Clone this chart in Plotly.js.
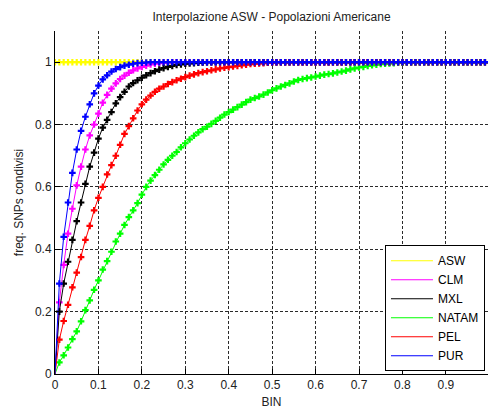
<!DOCTYPE html>
<html>
<head>
<meta charset="utf-8">
<script src="https://cdn.plot.ly/plotly-3.0.1.min.js"></script>
<style>html,body{margin:0;padding:0;background:#fff;}#chart{width:488px;height:410px;}</style>
</head>
<body>
<div id="chart"></div>
<script>
const bins = [0,0.01,0.02,0.03,0.04,0.05,0.06,0.07,0.08,0.09,
0.1,0.11,0.12,0.13,0.14,0.15,0.16,0.17,0.18,0.19,
0.2,0.21,0.22,0.23,0.24,0.25,0.26,0.27,0.28,0.29,
0.3,0.31,0.32,0.33,0.34,0.35,0.36,0.37,0.38,0.39,
0.4,0.41,0.42,0.43,0.44,0.45,0.46,0.47,0.48,0.49,
0.5,0.51,0.52,0.53,0.54,0.55,0.56,0.57,0.58,0.59,
0.6,0.61,0.62,0.63,0.64,0.65,0.66,0.67,0.68,0.69,
0.7,0.71,0.72,0.73,0.74,0.75,0.76,0.77,0.78,0.79,
0.8,0.81,0.82,0.83,0.84,0.85,0.86,0.87,0.88,0.89,
0.9,0.91,0.92,0.93,0.94,0.95,0.96,0.97,0.98,0.99,
1];

const ASW = [1,1,1,1,1,1,1,1,1,1,
1,1,1,1,1,1,1,1,1,1,
1,1,1,1,1,1,1,1,1,1,
1,1,1,1,1,1,1,1,1,1,
1,1,1,1,1,1,1,1,1,1,
1,1,1,1,1,1,1,1,1,1,
1,1,1,1,1,1,1,1,1,1,
1,1,1,1,1,1,1,1,1,1,
1,1,1,1,1,1,1,1,1,1,
1,1,1,1,1,1,1,1,1,1,
1];

const CLM = [0,0.23,0.35,0.45,0.53,0.605,0.665,0.72,0.765,0.8,
0.835,0.87,0.895,0.915,0.932,0.946,0.957,0.966,0.974,0.98,
0.985,0.989,0.993,0.995,0.997,0.998,0.999,1,1,1,
1,1,1,1,1,1,1,1,1,1,
1,1,1,1,1,1,1,1,1,1,
1,1,1,1,1,1,1,1,1,1,
1,1,1,1,1,1,1,1,1,1,
1,1,1,1,1,1,1,1,1,1,
1,1,1,1,1,1,1,1,1,1,
1,1,1,1,1,1,1,1,1,1,
1];

const MXL = [0,0.2,0.29,0.36,0.43,0.49,0.55,0.61,0.665,0.71,
0.755,0.79,0.815,0.84,0.868,0.888,0.905,0.922,0.933,0.942,
0.95,0.958,0.965,0.971,0.976,0.981,0.985,0.988,0.991,0.993,
0.995,0.996,0.997,0.998,0.999,1,1,1,1,1,
1,1,1,1,1,1,1,1,1,1,
1,1,1,1,1,1,1,1,1,1,
1,1,1,1,1,1,1,1,1,1,
1,1,1,1,1,1,1,1,1,1,
1,1,1,1,1,1,1,1,1,1,
1,1,1,1,1,1,1,1,1,1,
1];

const NATAM = [0,0.037,0.06,0.085,0.112,0.137,0.169,0.205,0.236,0.27,
0.3,0.335,0.362,0.392,0.425,0.45,0.478,0.503,0.525,0.548,
0.575,0.6,0.62,0.638,0.655,0.672,0.687,0.7,0.712,0.727,
0.74,0.752,0.764,0.775,0.785,0.793,0.802,0.812,0.822,0.832,
0.84,0.848,0.856,0.864,0.872,0.88,0.885,0.89,0.896,0.903,
0.91,0.916,0.922,0.927,0.932,0.938,0.943,0.946,0.949,0.951,
0.954,0.957,0.96,0.962,0.964,0.967,0.97,0.973,0.977,0.98,
0.983,0.985,0.988,0.99,0.992,0.994,0.995,0.996,0.997,0.998,
0.998,0.999,1,1,1,1,1,1,1,1,
1,1,1,1,1,1,1,1,1,1,
1];

const PEL = [0,0.11,0.17,0.222,0.278,0.325,0.375,0.43,0.475,0.525,
0.565,0.6,0.64,0.67,0.7,0.735,0.77,0.795,0.82,0.845,
0.865,0.88,0.893,0.905,0.915,0.922,0.93,0.936,0.942,0.947,
0.952,0.957,0.961,0.965,0.968,0.971,0.974,0.977,0.98,0.982,
0.984,0.986,0.988,0.99,0.992,0.994,0.995,0.996,0.997,0.998,
0.999,1,1,1,1,1,1,1,1,1,
1,1,1,1,1,1,1,1,1,1,
1,1,1,1,1,1,1,1,1,1,
1,1,1,1,1,1,1,1,1,1,
1,1,1,1,1,1,1,1,1,1,
1];

const PUR = [0,0.29,0.44,0.55,0.645,0.72,0.78,0.825,0.865,0.9,
0.925,0.945,0.958,0.97,0.978,0.984,0.989,0.992,0.995,0.997,
0.998,0.999,1,1,1,1,1,1,1,1,
1,1,1,1,1,1,1,1,1,1,
1,1,1,1,1,1,1,1,1,1,
1,1,1,1,1,1,1,1,1,1,
1,1,1,1,1,1,1,1,1,1,
1,1,1,1,1,1,1,1,1,1,
1,1,1,1,1,1,1,1,1,1,
1,1,1,1,1,1,1,1,1,1,
1];

const seriesNames = ['ASW','CLM','MXL','NATAM','PEL','PUR'];
const seriesValues = [ASW, CLM, MXL, NATAM, PEL, PUR];
const seriesColors = ['#ffff00','#ff00ff','#000000','#00ff00','#ff0000','#0000ff'];

const xTicks = [0,0.1,0.2,0.3,0.4,0.5,0.6,0.7,0.8,0.9];
const xTickText = ['0','0.1','0.2','0.3','0.4','0.5','0.6','0.7','0.8','0.9'];
const yTicks = [0,0.2,0.4,0.6,0.8,1];
const yTickText = ['0','0.2','0.4','0.6','0.8','1'];

const traces = [];
seriesNames.forEach((name, k) => {
  const vals = seriesValues[k];
  const startIdx = (name === 'ASW') ? 0 : 1;
  traces.push({
    type: 'scatter', mode: 'lines', name: name,
    x: bins, y: vals,
    line: {color: seriesColors[k], width: 1},
    legendgroup: name, showlegend: true, hoverinfo: 'skip'
  });
  traces.push({
    type: 'scatter', mode: 'markers', name: name,
    x: bins.slice(startIdx), y: vals.slice(startIdx),
    marker: {symbol: 'cross', size: 5.5, color: seriesColors[k], line: {width: 0}},
    legendgroup: name, showlegend: false, hoverinfo: 'skip'
  });
});

const fontFam = 'Liberation Sans, Arial, sans-serif';
const layout = {
  width: 488, height: 410,
  margin: {l: 55, r: 0, t: 31, b: 36, pad: 0},
  paper_bgcolor: '#ffffff', plot_bgcolor: '#ffffff',
  font: {family: fontFam, size: 12, color: '#222'},
  title: {text: 'Interpolazione ASW - Popolazioni Americane', font: {family: fontFam, size: 12, color: '#222'},
          x: 0.5, xref: 'paper', xanchor: 'center', y: 1 - 17/410, yref: 'container', yanchor: 'middle'},
  showlegend: true,
  legend: {x: 0.993, y: 0.008, xanchor: 'right', yanchor: 'bottom', bgcolor: '#ffffff',
           bordercolor: '#000', borderwidth: 1, font: {family: fontFam, size: 12, color: '#000'},
           traceorder: 'normal', tracegroupgap: 0, itemwidth: 42},
  xaxis: {range: [0, 0.997], tickvals: xTicks, ticktext: xTickText, ticks: 'inside', ticklen: 5,
          tickcolor: '#000', showline: true, linecolor: '#000', linewidth: 1, mirror: false,
          showgrid: true, gridcolor: '#2a2a2a', gridwidth: 1, griddash: '3px,2px', zeroline: false,
          tickfont: {family: fontFam, size: 12, color: '#222'},
          title: {text: 'BIN', font: {family: fontFam, size: 12, color: '#222'}, standoff: 6}},
  yaxis: {range: [0, 1.1], tickvals: yTicks, ticktext: yTickText, ticks: 'inside', ticklen: 5,
          tickcolor: '#000', showline: true, linecolor: '#000', linewidth: 1, mirror: false,
          showgrid: true, gridcolor: '#2a2a2a', gridwidth: 1, griddash: '3px,2px', zeroline: false,
          tickfont: {family: fontFam, size: 12, color: '#222'},
          title: {text: 'freq. SNPs condivisi', font: {family: fontFam, size: 12, color: '#222'}, standoff: 8}}
};

Plotly.newPlot('chart', traces, layout, {staticPlot: true, displayModeBar: false});
</script>
</body>
</html>
